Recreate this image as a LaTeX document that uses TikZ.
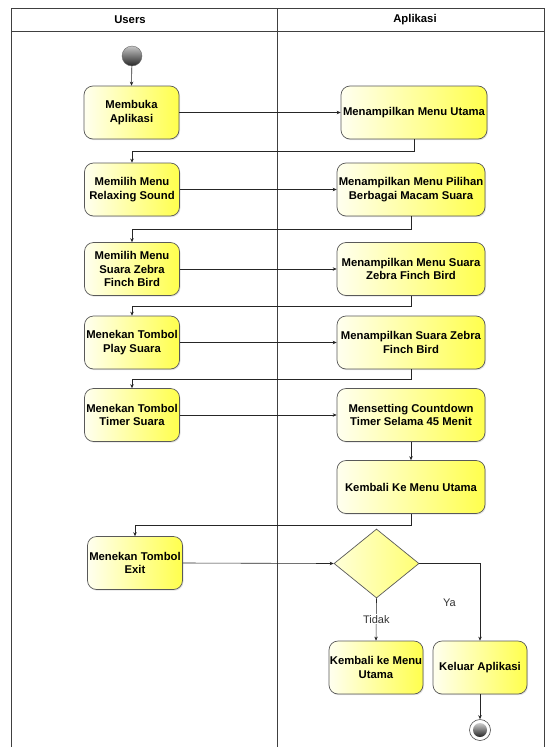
\documentclass[tikz,border=0pt]{standalone}
\usepackage{fontspec}
\setmainfont{Liberation Sans}
\usetikzlibrary{shapes.geometric,arrows.meta,shadows}
\begin{document}
\begin{tikzpicture}[x=1pt,y=-1pt,
  lane/.style={draw=black!75,line width=0.8pt},
  act/.style={draw=black!65,line width=0.7pt,rounded corners=9pt,
    left color=yellow!6,right color=yellow!70,
    drop shadow={opacity=0.22,shadow xshift=1pt,shadow yshift=-1.2pt},
    minimum width=95pt,minimum height=53pt,inner sep=0pt,align=center,
    font=\bfseries\fontsize{11.3}{13.5}\selectfont},
  wideact/.style={act,minimum width=148pt},
  hdr/.style={font=\bfseries\fontsize{11.3}{13.5}\selectfont},
  lbl/.style={font=\fontsize{11}{13}\selectfont,text=black!80,inner sep=1pt},
  arr/.style={draw=black!85,line width=0.6pt,-{Stealth[length=4pt,width=3.5pt]}},
  dec/.style={diamond,draw=black!65,line width=0.7pt,
    left color=yellow!15,right color=yellow!55,
    minimum width=85pt,minimum height=69pt,inner sep=0pt},
  startnode/.style={circle,minimum size=20pt,inner sep=0pt,draw=black!60,
    top color=gray!45,bottom color=black!85},
]
\useasboundingbox (0,0) rectangle (549,747);
% swimlane frame
\draw[lane] (11,747) -- (11,8.5) -- (544,8.5) -- (544,747);
\draw[lane] (11,31.5) -- (544,31.5);
\draw[lane] (277,8.5) -- (277,747);
\node[hdr] (husers) at (130,19.5) {Users};
\node[hdr] (happ) at (415,19.5) {Aplikasi};

% nodes
\node[startnode] (start) at (132,56) {};
\node[act] (L1) at (131.5,112.5) {Membuka\\Aplikasi};
\node[wideact,minimum width=146pt] (R1) at (414,112.5) {Menampilkan Menu Utama};
\node[act] (L2) at (132,189.5) {Memilih Menu\\Relaxing Sound};
\node[wideact] (R2) at (411,189.5) {Menampilkan Menu Pilihan\\Berbagai Macam Suara};
\node[act] (L3) at (132,269) {Memilih Menu\\Suara Zebra\\Finch Bird};
\node[wideact] (R3) at (411,269) {Menampilkan Menu Suara\\Zebra Finch Bird};
\node[act] (L4) at (132,342.5) {Menekan Tombol\\Play Suara};
\node[wideact] (R4) at (411,342.5) {Menampilkan Suara Zebra\\Finch Bird};
\node[act] (L5) at (132,415) {Menekan Tombol\\Timer Suara};
\node[wideact] (R5) at (411,415) {Mensetting Countdown\\Timer Selama 45 Menit};
\node[wideact] (R6) at (411,487) {Kembali Ke Menu Utama};
\node[act] (L6) at (135,563) {Menekan Tombol\\Exit};
\node[dec] (D) at (376.5,563.5) {};
\node[act,minimum width=94pt] (K2) at (376,667.5) {Kembali ke Menu\\Utama};
\node[act,minimum width=94pt] (KA) at (480,667.5) {Keluar Aplikasi};
\node[circle,draw=black!70,line width=0.6pt,fill=white,minimum size=21pt,inner sep=0pt] (end) at (480,730) {};
\node[circle,minimum size=14pt,inner sep=0pt,top color=gray!40,bottom color=black!85] (endin) at (end.center) {};

% connectors
\draw[arr] (start) -- (L1.north);
\draw[arr] (L1.east) -- (R1.west);
\draw[arr] (R1.south) -- ++(0,12) -| (L2.north);
\draw[arr] (L2.east) -- (R2.west);
\draw[arr] (R2.south) -- ++(0,13) -| (L3.north);
\draw[arr] (L3.east) -- (R3.west);
\draw[arr] (R3.south) -- ++(0,10) -| (L4.north);
\draw[arr] (L4.east) -- (R4.west);
\draw[arr] (R4.south) -- ++(0,10) -| (L5.north);
\draw[arr] (L5.east) -- (R5.west);
\draw[arr] (R5.south) -- (R6.north);
\draw[arr] (R6.south) -- ++(0,11) -| (L6.north);
\draw[arr] (L6.east) -- (D.west);
\draw[arr] (D.east) -| (KA.north);
\draw[arr] (D.south) -- node[lbl,fill=white,pos=0.49] (tidak) {Tidak} (K2.north);
\node[lbl] (ya) at (449.5,602.5) {Ya};
\draw[arr] (KA.south) -- (end.north);
\end{tikzpicture}
\end{document}
